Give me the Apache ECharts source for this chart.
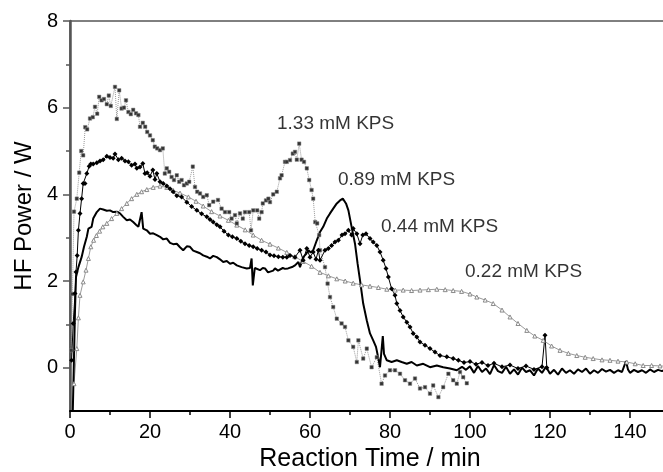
<!DOCTYPE html>
<html>
<head>
<meta charset="utf-8">
<script src="https://cdn.jsdelivr.net/npm/echarts@6/dist/echarts.min.js"></script>
<style>
html,body{margin:0;padding:0;background:#fff}
#name{width:663px;height:472px}
</style>
</head>
<body>
<div id="name"></div>
<script>
// x = reaction time (min), y = HF power (W)
let s133 = [[0.3,0.4],[0.6,1.7],[1.0,3.6],[1.7,3.9],[2.3,4.5],[2.8,5.0],[3.3,4.9],[3.8,5.55],[4.3,5.5],[5.0,5.75],[5.7,5.78],[6.25,6.02],[6.8,5.86],[7.3,6.25],[7.9,6.17],[8.5,6.2],[9.2,6.08],[9.7,6.28],[10.2,6.04],[11.25,6.48],[11.7,5.74],[12.3,6.4],[12.9,5.98],[13.5,6.0],[14.0,6.17],[14.6,5.9],[15.2,5.85],[15.8,5.95],[16.5,5.87],[17.1,5.83],[17.5,5.56],[18.2,5.65],[18.8,5.56],[19.3,5.44],[20.0,5.36],[20.7,5.25],[21.2,5.1],[21.8,5.06],[22.5,5.02],[23.2,5.06],[23.7,4.48],[24.2,4.6],[24.8,4.52],[25.4,4.4],[26.0,4.33],[26.7,4.44],[27.3,4.29],[27.9,4.33],[28.5,4.21],[29.2,4.25],[29.8,4.29],[30.7,4.64],[31.25,4.17],[31.8,4.06],[32.5,4.02],[33.3,3.94],[34.2,3.98],[34.8,3.75],[35.8,3.83],[37.0,3.87],[37.9,3.67],[38.75,3.59],[39.8,3.59],[40.4,3.44],[41.25,3.52],[41.7,3.33],[42.5,3.56],[43.2,3.44],[43.75,3.59],[44.8,3.59],[45.25,3.17],[45.8,3.63],[46.8,3.63],[47.3,3.44],[47.9,3.59],[48.2,3.79],[49.0,3.86],[49.6,3.9],[50.0,3.82],[50.8,4.0],[51.7,4.06],[52.5,4.37],[52.9,4.44],[53.75,4.75],[54.2,4.75],[55.0,4.79],[55.7,4.94],[56.25,4.98],[56.7,4.8],[57.3,5.17],[57.9,4.8],[58.5,4.75],[59.2,4.6],[59.8,4.33],[60.4,4.1],[60.8,3.9],[61.3,3.36],[61.8,3.33],[62.3,3.06],[62.5,2.71],[63.75,2.32],[64.4,1.94],[65.0,1.63],[65.8,1.4],[66.7,1.13],[67.9,1.02],[68.75,0.94],[69.6,0.63],[70.8,0.48],[71.7,0.13],[72.1,0.63],[73.3,0.21],[74.2,0.44],[75.4,0.01],[76.7,0.24],[77.9,-0.37],[78.75,-0.18],[80.0,-0.06],[81.25,-0.06],[82.5,-0.14],[83.75,-0.29],[85.0,-0.37],[86.25,-0.25],[87.5,-0.48],[88.75,-0.45],[90.0,-0.6],[90.8,-0.41],[92.1,-0.68],[93.3,-0.45],[94.6,-0.14],[95.8,-0.29],[96.7,-0.37],[97.5,-0.1],[98.3,-0.22],[99.2,-0.36]];

let s089 = [[0.7,-1.0],[1.0,0.24],[1.25,1.32],[1.5,2.09],[2.1,2.32],[2.9,2.55],[3.5,2.79],[4.2,3.02],[4.6,3.21],[5.4,3.25],[5.8,3.44],[6.7,3.59],[7.5,3.67],[8.3,3.65],[9.2,3.62],[10.0,3.63],[10.8,3.59],[11.7,3.6],[12.5,3.56],[13.3,3.48],[14.2,3.4],[15.0,3.42],[15.8,3.36],[16.5,3.3],[17.1,3.25],[17.9,3.59],[18.3,3.21],[19.2,3.17],[20.0,3.09],[20.8,3.1],[21.7,3.06],[22.5,3.02],[23.3,2.96],[24.2,2.98],[25.0,2.88],[25.8,2.85],[26.7,2.86],[27.5,2.78],[28.3,2.71],[29.2,2.8],[30.0,2.79],[30.8,2.7],[31.7,2.67],[32.5,2.64],[33.3,2.59],[34.2,2.56],[35.0,2.52],[35.8,2.58],[36.7,2.55],[37.5,2.5],[38.3,2.44],[39.2,2.46],[40.0,2.4],[40.8,2.42],[41.7,2.36],[42.9,2.32],[44.2,2.29],[45.0,2.3],[45.4,2.52],[45.7,1.9],[46.2,2.3],[46.7,2.32],[47.5,2.25],[48.2,2.3],[48.75,2.29],[49.5,2.2],[50.0,2.21],[50.8,2.24],[51.25,2.29],[52.0,2.24],[52.5,2.25],[53.2,2.3],[53.75,2.28],[54.5,2.29],[55.0,2.31],[55.7,2.33],[56.25,2.36],[56.7,2.4],[57.1,2.44],[57.5,2.32],[58.3,2.55],[59.0,2.62],[59.6,2.71],[60.2,2.66],[60.8,2.71],[61.7,2.94],[62.5,3.13],[63.3,3.25],[64.2,3.44],[65.0,3.56],[65.8,3.67],[66.7,3.79],[67.5,3.86],[68.2,3.9],[69.0,3.79],[69.6,3.63],[70.4,3.25],[71.25,2.86],[71.9,2.4],[72.5,2.02],[73.3,1.48],[74.2,1.09],[75.0,0.79],[75.8,0.63],[76.5,0.48],[77.1,0.21],[77.5,0.01],[78.2,0.73],[78.5,0.32],[79.2,0.17],[80.4,0.13],[81.7,0.17],[82.9,0.13],[84.2,0.09],[85.4,0.13],[86.7,0.05],[88.3,0.09],[90.0,0.01],[91.7,0.05],[93.3,0.01],[95.0,-0.02],[96.7,-0.06],[98.0,0.02],[99.0,-0.05],[100.0,0.03],[101,-0.12],[102,0.04],[103,-0.1],[104,-0.02],[105,-0.15],[106,0.06],[107,-0.08],[108,-0.12],[109,0.02],[110,-0.14],[111,-0.04],[112,-0.16],[113,0.0],[114,-0.1],[115,-0.06],[116,-0.18],[117,-0.02],[118,-0.12],[119,0.02],[120,-0.14],[121,-0.05],[122,-0.16],[123,-0.02],[124,-0.12],[125,-0.06],[126,-0.14],[127,-0.04],[128,-0.1],[129,-0.02],[130,-0.14],[131,-0.06],[132,-0.12],[133,-0.03],[134,-0.09],[135,-0.05],[136,-0.12],[137,-0.06],[138,-0.1],[139,0.15],[139.5,-0.04],[140,-0.12],[141,-0.05],[142,-0.1],[143,-0.06],[144,-0.12],[145,-0.04],[146,-0.1],[147,-0.05],[148,-0.08],[149,-0.04]];

let s044 = [[0.4,0.17],[0.8,1.02],[1.25,1.71],[1.5,2.21],[1.8,2.59],[2.1,3.17],[2.5,3.56],[2.9,3.9],[3.3,4.25],[3.75,4.25],[4.2,4.48],[4.8,4.65],[5.2,4.7],[5.8,4.7],[6.7,4.73],[7.5,4.77],[8.3,4.8],[9.2,4.88],[10.0,4.85],[10.8,4.83],[11.25,4.93],[12.1,4.8],[12.9,4.83],[13.75,4.77],[14.6,4.75],[15.4,4.67],[16.25,4.7],[16.7,4.6],[17.5,4.63],[18.2,4.71],[18.75,4.48],[19.3,4.5],[20.0,4.42],[20.7,4.56],[21.25,4.34],[21.7,4.48],[22.5,4.29],[23.3,4.25],[24.2,4.19],[25.0,4.13],[25.8,4.06],[26.7,3.97],[27.9,3.94],[29.2,3.82],[30.4,3.72],[31.7,3.63],[32.9,3.55],[34.2,3.48],[35.0,3.42],[35.8,3.36],[36.7,3.3],[37.5,3.25],[38.5,3.15],[39.6,3.06],[40.6,3.02],[41.7,2.98],[42.7,2.92],[43.75,2.86],[44.8,2.82],[45.8,2.79],[46.8,2.75],[47.9,2.71],[49.0,2.67],[50.0,2.6],[51.0,2.58],[52.1,2.56],[53.2,2.55],[54.2,2.55],[55.0,2.59],[56.25,2.55],[57.5,2.71],[58.3,2.48],[59.2,2.75],[60.0,2.55],[60.8,2.67],[61.5,2.5],[62.1,2.71],[62.5,2.48],[63.75,2.71],[64.6,2.75],[65.4,2.82],[66.25,2.9],[67.1,2.94],[68.0,3.06],[68.75,3.09],[69.6,3.17],[70.4,3.06],[70.8,3.21],[71.7,3.09],[72.5,2.86],[73.2,3.06],[74.0,3.09],[75.0,2.98],[75.8,2.9],[76.7,2.82],[77.5,2.67],[78.3,2.48],[79.0,2.29],[79.6,2.09],[80.4,1.82],[81.25,1.67],[81.7,1.48],[82.5,1.32],[83.3,1.17],[84.2,1.05],[85.0,0.94],[85.8,0.79],[86.7,0.71],[87.5,0.59],[88.75,0.52],[90.0,0.44],[91.25,0.36],[92.5,0.28],[94.2,0.25],[95.8,0.21],[97.1,0.17],[98.5,0.12],[100,0.14],[101.5,0.08],[103,0.12],[104.5,0.05],[106,0.1],[108,0.02],[110,0.06],[112,-0.02],[114,0.04],[116,-0.04],[118,0.02],[118.75,0.75],[119.2,0.0]];

let s022 = [[1.0,-0.37],[1.7,0.44],[2.1,1.15],[2.5,1.67],[3.3,1.98],[4.0,2.25],[4.6,2.52],[5.2,2.79],[5.9,2.94],[6.6,3.05],[7.4,3.15],[8.2,3.25],[9.2,3.33],[10.4,3.44],[11.7,3.56],[12.9,3.67],[14.2,3.79],[15.4,3.9],[16.7,4.0],[17.9,4.06],[19.2,4.11],[20.8,4.16],[22.5,4.19],[24.2,4.16],[25.8,4.09],[27.5,4.03],[29.6,3.94],[31.5,3.84],[33.3,3.73],[35.4,3.6],[37.5,3.5],[39.6,3.4],[41.7,3.29],[43.8,3.18],[45.8,3.06],[47.9,2.94],[50.0,2.85],[52.1,2.76],[54.2,2.66],[56.2,2.56],[58.3,2.45],[60.4,2.34],[62.5,2.2],[64.6,2.12],[66.7,2.05],[68.8,2.0],[70.8,1.95],[72.9,1.91],[75.0,1.88],[77.1,1.85],[79.2,1.81],[81.3,1.79],[83.3,1.79],[85.4,1.78],[87.5,1.79],[89.6,1.8],[91.7,1.81],[93.8,1.8],[95.8,1.78],[97.9,1.76],[100.0,1.7],[101.7,1.63],[103.8,1.56],[105.8,1.48],[108.0,1.33],[110.0,1.17],[112.0,1.02],[114.2,0.86],[116.2,0.73],[118.3,0.63],[120.4,0.5],[122.5,0.4],[124.6,0.33],[126.7,0.28],[128.8,0.24],[130.8,0.21],[133.0,0.18],[135.0,0.17],[137.0,0.15],[139.2,0.13],[141.3,0.09],[143.3,0.05],[145.4,0.05],[147.5,0.04],[149.5,0.03]];

// curve labels, anchored at the left end of each text
let curveLabels = [[51.75,5.64,'1.33 mM KPS'],[67,4.33,'0.89 mM KPS'],[77.75,3.26,'0.44 mM KPS'],[98.75,2.22,'0.22 mM KPS']];

let yTickValues = [0,2,4,6,8];
let yMinorValues = [1,3,5,7];

let font = '"Liberation Sans", Arial, sans-serif';
let myChart = echarts.init(document.getElementById('name'));

myChart.setOption({
  animation: false,
  backgroundColor: '#fff',
  grid: {
    left: 70, top: 21, right: -7, bottom: 61,
    outerBoundsMode: 'none',
    show: true, borderColor: '#000', borderWidth: 1
  },
  xAxis: {
    type: 'value',
    min: 0, max: 150, interval: 20,
    name: 'Reaction Time / min',
    nameLocation: 'middle',
    nameGap: 36,
    nameTextStyle: { fontFamily: font, fontSize: 25, color: '#000' },
    axisLine: { show: true, onZero: false, lineStyle: { color: '#000', width: 2 } },
    axisTick: { show: true, inside: false, length: 7, lineStyle: { color: '#000', width: 1.5 } },
    minorTick: { show: true, splitNumber: 2, length: 4, lineStyle: { color: '#000', width: 1.5 } },
    axisLabel: { fontFamily: font, fontSize: 20, color: '#000', margin: 11, showMaxLabel: false },
    splitLine: { show: false }
  },
  yAxis: [{
    type: 'value',
    min: -1, max: 8,
    name: 'HF Power / W',
    nameLocation: 'middle',
    nameGap: 34,
    nameTextStyle: { fontFamily: font, fontSize: 24, color: '#000' },
    axisLine: { show: true, onZero: false, lineStyle: { color: '#555', width: 2.5 } },
    axisTick: { show: true, inside: false, length: 7, customValues: yTickValues, lineStyle: { color: '#555', width: 1.5 } },
    axisLabel: { fontFamily: font, fontSize: 20, color: '#000', margin: 12, customValues: yTickValues },
    splitLine: { show: false }
  }, {
    type: 'value',
    position: 'left',
    min: -1, max: 8,
    axisLine: { show: false, onZero: false },
    axisTick: { show: true, inside: false, length: 4, customValues: yMinorValues, lineStyle: { color: '#555', width: 1.5 } },
    axisLabel: { show: false },
    splitLine: { show: false }
  }],
  series: [{
    name: '0.22 mM KPS',
    type: 'line',
    data: s022,
    symbol: 'triangle',
    symbolSize: 4,
    showAllSymbol: true,
    lineStyle: { color: '#9a9a9a', width: 1 },
    itemStyle: { color: '#fff', borderColor: '#8a8a8a', borderWidth: 1 }
  }, {
    name: '1.33 mM KPS',
    type: 'line',
    data: s133,
    symbol: 'rect',
    symbolSize: 3.5,
    showAllSymbol: true,
    lineStyle: { color: '#999', width: 1, type: 'dotted' },
    itemStyle: { color: '#333', borderColor: '#888', borderWidth: 0.5 }
  }, {
    name: '0.44 mM KPS',
    type: 'line',
    data: s044,
    symbol: 'diamond',
    symbolSize: 5,
    showAllSymbol: true,
    lineStyle: { color: '#000', width: 1 },
    itemStyle: { color: '#000' }
  }, {
    name: '0.89 mM KPS',
    type: 'line',
    data: s089,
    showSymbol: false,
    lineStyle: { color: '#000', width: 2 }
  }, {
    type: 'scatter',
    data: curveLabels,
    symbolSize: 0,
    silent: true,
    label: {
      show: true,
      position: 'right',
      distance: 0,
      fontFamily: font,
      fontSize: 19,
      color: '#000',
      formatter: function (p) { return p.data[2]; }
    }
  }]
});
</script>
</body>
</html>
